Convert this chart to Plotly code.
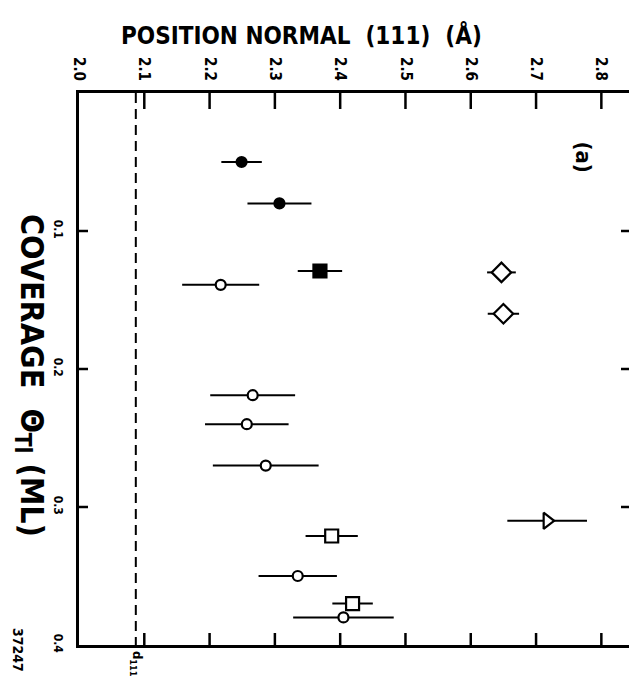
import plotly.graph_objects as go

# ---- data (position normal to (111) in Å, coverage in ML, error half-width in Å)
fc_pos = [2.249, 2.307]
fc_cov = [0.050, 0.080]
fc_err = [0.031, 0.049]

fs_pos = [2.369]
fs_cov = [0.129]
fs_err = [0.034]

oc_pos = [2.217, 2.266, 2.257, 2.286, 2.335, 2.405]
oc_cov = [0.139, 0.219, 0.240, 0.270, 0.350, 0.380]
oc_err = [0.059, 0.065, 0.064, 0.081, 0.060, 0.077]

dm_pos = [2.647, 2.650]
dm_cov = [0.130, 0.160]
dm_err = [0.022, 0.024]

os_pos = [2.387, 2.419]
os_cov = [0.321, 0.370]
os_err = [0.040, 0.031]

tr_pos = [2.717]
tr_cov = [0.310]
tr_err = [0.061]

d111 = 2.087
d111_cov = [0.0, 0.4]

x_range = [2.0, 2.85]
y_range = [0.0, 0.4]
x_ticks = [2.0, 2.1, 2.2, 2.3, 2.4, 2.5, 2.6, 2.7, 2.8]
x_labels = ["2.0", "2.1", "2.2", "2.3", "2.4", "2.5", "2.6", "2.7", "2.8"]
y_ticks = [0.1, 0.2, 0.3, 0.4]
y_labels = ["0.1", "0.2", "0.3", "0.4"]

FONT = "'Liberation Sans Narrow', 'DejaVu Sans Condensed', 'Arial Narrow', 'Liberation Sans', sans-serif"

# inward tick lengths (axis units)
TICK_TOP = 0.0116    # ~16 px
TICK_BOT = 0.0087    # ~12 px
TICK_LEFT = 0.0138   # ~9 px
TICK_RIGHT = 0.0199  # ~13 px

fig = go.Figure()

# d111 dashed reference line
fig.add_trace(go.Scatter(x=[d111, d111], y=d111_cov, mode="lines",
                         line=dict(color="black", width=2, dash="10px,6px"),
                         hoverinfo="skip", showlegend=False))

# inward frame ticks, built from the tick arrays as short line segments
inner_x = [v for v in x_ticks if v > x_range[0]]
inner_y = [v for v in y_ticks if v < y_range[1]]
tx, ty = [], []
for v in inner_x:
    tx += [v, v, None, v, v, None]
    ty += [y_range[0], y_range[0] + TICK_TOP, None, y_range[1], y_range[1] - TICK_BOT, None]
for v in inner_y:
    tx += [x_range[0], x_range[0] + TICK_LEFT, None, x_range[1], x_range[1] - TICK_RIGHT, None]
    ty += [v, v, None, v, v, None]
fig.add_trace(go.Scatter(x=tx, y=ty, mode="lines", line=dict(color="black", width=2.5),
                         connectgaps=False, hoverinfo="skip", showlegend=False))

def add(xs, ys, errs, symbol, size, fill):
    fig.add_trace(go.Scatter(
        x=xs, y=ys, mode="markers",
        error_x=dict(type="data", array=errs, visible=True, color="black",
                     thickness=2, width=0),
        marker=dict(symbol=symbol, size=size, color=fill,
                    line=dict(color="black", width=2.2)),
        showlegend=False))

add(fc_pos, fc_cov, fc_err, "circle", 10, "black")
add(fs_pos, fs_cov, fs_err, "square", 13, "black")
add(oc_pos, oc_cov, oc_err, "circle", 10, "white")
add(dm_pos, dm_cov, dm_err, "diamond", 15, "white")
add(os_pos, os_cov, os_err, "square", 13, "white")
add(tr_pos, tr_cov, tr_err, "triangle-right", 14, "white")

axis_common = dict(ticks="", showline=True, linewidth=2.5, linecolor="black", mirror=True,
                   showgrid=False, zeroline=False, automargin=False)

# figure kept inside the window together with the page's 8 px body margin
fig.update_layout(
    width=629, height=668,
    margin=dict(l=71, r=3, t=85, b=31),
    paper_bgcolor="white", plot_bgcolor="white",
    font=dict(family=FONT, color="black"),
    xaxis=dict(range=x_range, side="top", tickvals=x_ticks, ticktext=x_labels,
               tickangle=90, ticklabelstandoff=4,
               tickfont=dict(family=FONT, size=15, color="black", weight="bold"),
               **axis_common),
    yaxis=dict(range=y_range[::-1], tickvals=y_ticks, ticktext=y_labels,
               tickangle=90, ticklabelstandoff=8,
               tickfont=dict(family=FONT, size=12, color="black", weight="bold"),
               **axis_common),
)

fig.add_annotation(text="POSITION NORMAL  (111)  (Å)", xref="paper", yref="paper",
                   x=0.40, y=1.105, xanchor="center", yanchor="middle", showarrow=False,
                   font=dict(family=FONT, size=24, color="black", weight="bold"))
fig.add_annotation(text="COVERAGE  Θ<sub>Tl</sub> (ML)", xref="paper", yref="paper",
                   x=-0.088, y=0.489, xanchor="center", yanchor="middle", showarrow=False,
                   textangle=90,
                   font=dict(family=FONT, size=32, color="black", weight="bold"))
fig.add_annotation(text="(a)", xref="x", yref="y", x=2.772, y=0.046,
                   xanchor="center", yanchor="middle", showarrow=False, textangle=90,
                   font=dict(family=FONT, size=22, color="black", weight="bold"))
fig.add_annotation(text="d<sub>111</sub>", xref="x", yref="paper", x=d111, y=-0.034,
                   xanchor="center", yanchor="middle", showarrow=False, textangle=90,
                   font=dict(family=FONT, size=13, color="black", weight="bold"))
fig.add_annotation(text="37247", xref="paper", yref="paper", x=-0.128, y=-0.009,
                   xanchor="left", yanchor="middle", showarrow=False, textangle=90,
                   font=dict(family=FONT, size=14, color="black", weight="bold"))

fig.write_html("out.html")
